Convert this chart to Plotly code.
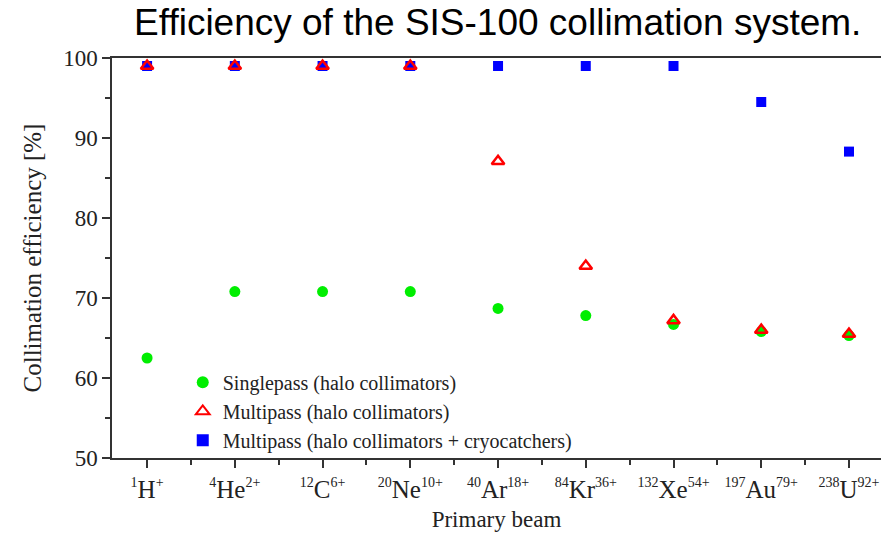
import plotly.graph_objects as go

# Primary beams (isotope mass number, element, charge state)
mass = ["1", "4", "12", "20", "40", "84", "132", "197", "238"]
element = ["H", "He", "C", "Ne", "Ar", "Kr", "Xe", "Au", "U"]
charge = ["+", "2+", "6+", "10+", "18+", "36+", "54+", "79+", "92+"]

# Collimation efficiency [%]
singlepass = [62.5, 70.8, 70.8, 70.8, 68.7, 67.8, 66.7, 65.8, 65.3]
multipass = [99.0, 99.0, 99.0, 99.0, 87.1, 74.0, 67.2, 66.0, 65.5]
multipass_cryo = [99.0, 99.0, 99.0, 99.0, 99.0, 99.0, 99.0, 94.5, 88.3]

x = list(range(len(element)))
sup = '<sup><span style="font-size:14px">{}</span></sup>'
ticktext = [sup.format(m) + e + sup.format(c) for m, e, c in zip(mass, element, charge)]

serif = "Liberation Serif, Times New Roman, serif"
ink = "#222222"

fig = go.Figure()
fig.add_trace(go.Scatter(
    x=x, y=multipass_cryo, mode="markers", name="Multipass (halo collimators + cryocatchers)",
    marker=dict(symbol="square", size=10, color="#0000ff"), legendrank=3,
))
fig.add_trace(go.Scatter(
    x=x, y=singlepass, mode="markers", name="Singlepass (halo collimators)",
    marker=dict(symbol="circle", size=11, color="#00ee00"), legendrank=1,
))
fig.add_trace(go.Scatter(
    x=x, y=multipass, mode="markers", name="Multipass (halo collimators)",
    marker=dict(symbol="triangle-up-open", size=11, color="#ff0000", line=dict(width=2.5)),
    legendrank=2,
))

axis_common = dict(
    showline=True, linecolor="#333333", linewidth=1.5, ticks="outside",
    tickcolor="#333333", tickwidth=1.5, showgrid=False, zeroline=False,
)

fig.update_layout(
    width=881, height=533,
    margin=dict(l=112, r=0, t=58, b=75),
    plot_bgcolor="white", paper_bgcolor="white",
    title=dict(
        text="Efficiency of the SIS-100 collimation system.",
        font=dict(family="Liberation Sans, Arial, sans-serif", size=37, color="black"),
        x=0.565, xanchor="center", y=0.982, yanchor="top",
    ),
    xaxis=dict(
        **axis_common, range=[-0.4, 8.365], tickvals=x, ticktext=ticktext, ticklen=8,
        mirror=True, ticklabeloverflow="allow",
        tickfont=dict(family=serif, size=25, color=ink),
        minor=dict(tick0=0.5, dtick=1, ticks="outside", ticklen=5, tickcolor="#333333", tickwidth=1.5),
        title=dict(text="Primary beam", font=dict(family=serif, size=23, color=ink), standoff=9),
    ),
    yaxis=dict(
        **axis_common, range=[50, 100], dtick=10, ticklen=8,
        tickfont=dict(family=serif, size=23, color=ink),
        minor=dict(dtick=5, ticks="outside", ticklen=5, tickcolor="#333333", tickwidth=1.5),
        title=dict(text="Collimation efficiency [%]", font=dict(family=serif, size=25, color=ink), standoff=14),
    ),
    legend=dict(
        x=0.092, y=0.238, xanchor="left", yanchor="top",
        bgcolor="rgba(0,0,0,0)", font=dict(family=serif, size=20, color=ink),
        itemsizing="constant", tracegroupgap=0,
    ),
)

fig.write_html("out.html")
